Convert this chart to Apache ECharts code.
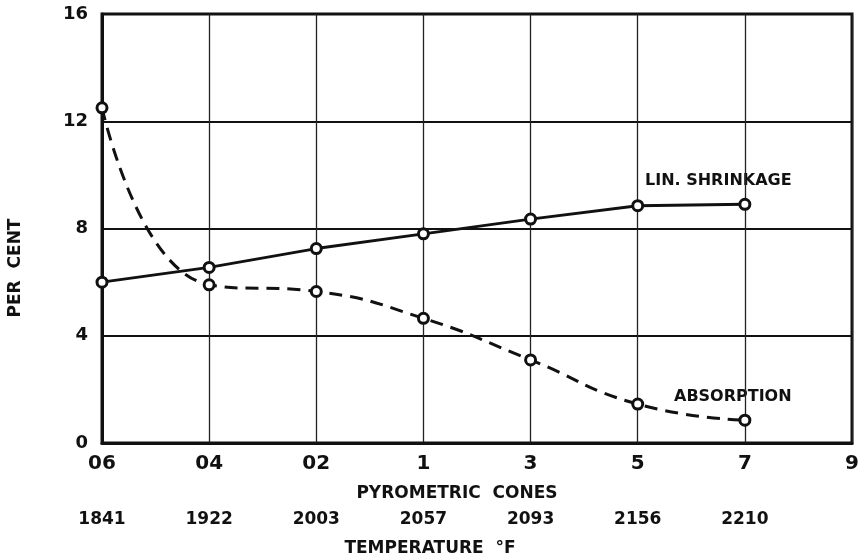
<!DOCTYPE html>
<html>
<head>
<meta charset="utf-8">
<script src="https://cdn.jsdelivr.net/npm/echarts@6/dist/echarts.min.js"></script>
<style>
  html, body { margin: 0; padding: 0; background: #fff; }
  #chart { width: 866px; height: 560px; }
</style>
</head>
<body>
<div id="chart"></div>
<script>
  // cones along the bottom, temperature (°F) under each cone
  var cones = ["06", "04", "02", "1", "3", "5", "7", "9"];
  var temps = ["1841", "1922", "2003", "2057", "2093", "2156", "2210", ""];
  var yTicks = [0, 4, 8, 12, 16];
  // values
  var shrinkage = [6.0, 6.55, 7.25, 7.8, 8.35, 8.85, 8.9];
  var absorption = [12.5, 5.9, 5.65, 4.65, 3.1, 1.45, 0.85];

  var font = "DejaVu Sans";
  var chart = echarts.init(document.getElementById("chart"));

  chart.setOption({
    backgroundColor: "#fff",
    animation: false,
    grid: {
      left: 102, right: 14, top: 14, bottom: 117,
      outerBoundsMode: "none",
      show: true,
      borderColor: "#111",
      borderWidth: 3
    },
    xAxis: [
      {
        type: "category",
        data: cones,
        boundaryGap: false,
        position: "bottom",
        axisLine: { lineStyle: { color: "#111", width: 3 } },
        axisTick: { show: false },
        axisLabel: { color: "#111", fontFamily: font, fontWeight: "bold", fontSize: 20, margin: 11 },
        splitLine: { show: true, lineStyle: { color: "#222", width: 1.3 } },
        name: "PYROMETRIC  CONES",
        nameLocation: "middle",
        nameGap: 42,
        nameTextStyle: { color: "#111", fontFamily: font, fontWeight: "bold", fontSize: 17, padding: [0, 40, 0, 0] }
      },
      {
        type: "category",
        data: temps,
        boundaryGap: false,
        position: "bottom",
        offset: 60,
        axisLine: { show: false },
        axisTick: { show: false },
        axisLabel: { color: "#111", fontFamily: font, fontWeight: "bold", fontSize: 17, margin: 8 },
        splitLine: { show: false },
        name: "TEMPERATURE  °F",
        nameLocation: "middle",
        nameGap: 37,
        nameTextStyle: { color: "#111", fontFamily: font, fontWeight: "bold", fontSize: 17, padding: [0, 94, 0, 0] }
      }
    ],
    yAxis: {
      type: "value",
      min: yTicks[0],
      max: yTicks[yTicks.length - 1],
      interval: 4,
      axisLine: { show: true, lineStyle: { color: "#111", width: 3 } },
      axisTick: { show: false },
      axisLabel: { color: "#111", fontFamily: font, fontWeight: "bold", fontSize: 18, margin: 14 },
      splitLine: { show: true, lineStyle: { color: "#111", width: 2 } }
    },
    graphic: [
      {
        type: "text",
        x: 16, y: 268,
        rotation: Math.PI / 2,
        style: { text: "PER  CENT", fill: "#111", font: "bold 17px DejaVu Sans", align: "center", verticalAlign: "middle" }
      },
      {
        type: "text",
        x: 645, y: 181,
        style: { text: "LIN. SHRINKAGE", fill: "#111", font: "bold 16px DejaVu Sans", align: "left", verticalAlign: "middle" }
      },
      {
        type: "text",
        x: 674, y: 397,
        style: { text: "ABSORPTION", fill: "#111", font: "bold 16px DejaVu Sans", align: "left", verticalAlign: "middle" }
      }
    ],
    series: [
      {
        name: "LIN. SHRINKAGE",
        type: "line",
        data: shrinkage,
        smooth: false,
        symbol: "circle",
        symbolSize: 10,
        itemStyle: { color: "#fff", borderColor: "#111", borderWidth: 3 },
        lineStyle: { color: "#111", width: 3 },
        z: 3
      },
      {
        name: "ABSORPTION",
        type: "line",
        data: absorption,
        smooth: 0.5,
        symbol: "circle",
        symbolSize: 10,
        itemStyle: { color: "#fff", borderColor: "#111", borderWidth: 3 },
        lineStyle: { color: "#111", width: 3, type: [13, 8] },
        z: 3
      }
    ]
  });
</script>
</body>
</html>
